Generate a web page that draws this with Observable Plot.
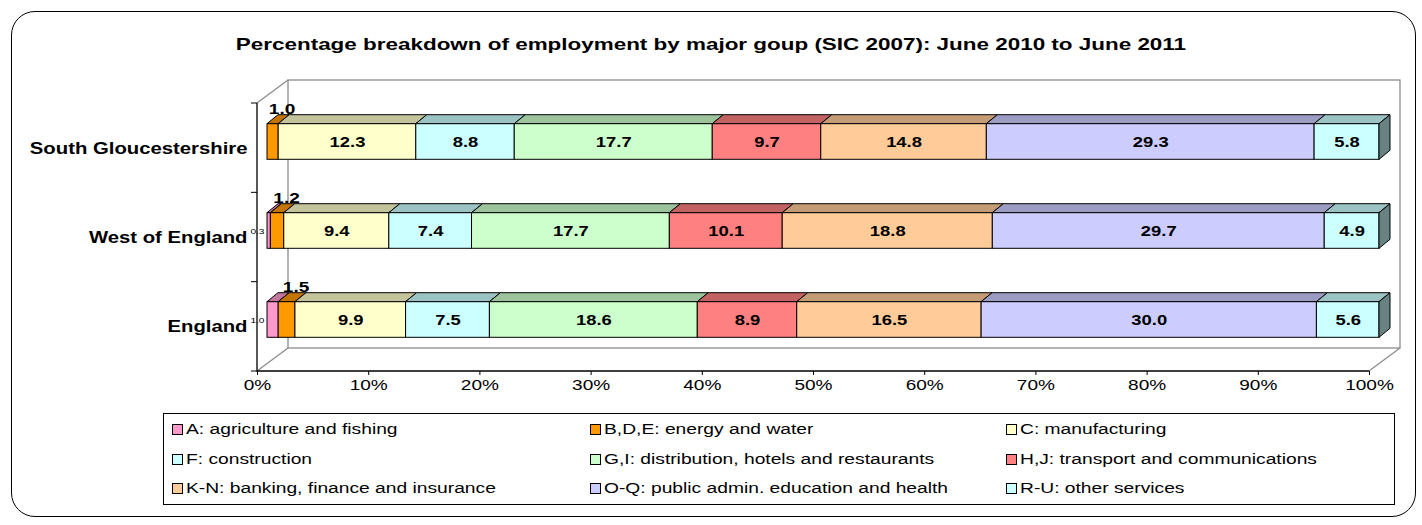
<!DOCTYPE html>
<html>
<head>
<meta charset="utf-8">
<script src="https://cdn.jsdelivr.net/npm/d3@7"></script>
<script src="https://cdn.jsdelivr.net/npm/@observablehq/plot@0.6"></script>
<style>
  html, body { margin: 0; padding: 0; background: #fff; }
  body { font-family: "Liberation Sans", Arial, sans-serif; color: #000; }
  #wrap { position: relative; width: 1422px; height: 525px; overflow: hidden; }
  #frame { position: absolute; left: 11px; top: 11px; width: 1405px; height: 506px; border: 1.5px solid #000; border-radius: 24px; box-sizing: border-box; }
  #title { position: absolute; left: 0; top: 35px; width: 1422px; text-align: center; }
  #title span { display: inline-block; font-weight: bold; font-size: 17px; transform: scaleX(1.32); transform-origin: center; }
  #chart { position: absolute; left: 0; top: 0; }
  #legend { position: absolute; left: 163px; top: 413px; width: 1232px; height: 92px; border: 1px solid #000; box-sizing: border-box; background: #fff; }
  .item { position: absolute; font-size: 15.5px; display: flex; align-items: center; white-space: nowrap; height: 20px; }
  .item .lab { display: inline-block; transform: scaleX(1.24); transform-origin: 0 50%; }
  .sw { width: 9px; height: 9px; border: 1px solid #000; margin-right: 3px; flex: none; }
</style>
</head>
<body>
<div id="wrap">
  <div id="frame"></div>
  <div id="chart"></div>
  <div id="title"><span></span></div>
  <div id="legend"></div>
</div>
<script>
const chartTitle = "Percentage breakdown of employment by major goup (SIC 2007): June 2010 to June 2011";
const regions = ["South Gloucestershire", "West of England", "England"];
const sectors = [
  "A: agriculture and fishing",
  "B,D,E: energy and water",
  "C: manufacturing",
  "F: construction",
  "G,I: distribution, hotels and restaurants",
  "H,J: transport and communications",
  "K-N: banking, finance and insurance",
  "O-Q: public admin. education and health",
  "R-U: other services"
];
const sectorColors = ["#FF99CC", "#FF9900", "#FFFFCC", "#CCFFFF", "#CCFFCC", "#FF8080", "#FFCC99", "#CCCCFF", "#CCFFFF"];
const southGloucestershire = [0.0, 1.0, 12.3, 8.8, 17.7, 9.7, 14.8, 29.3, 5.8];
const westOfEngland = [0.3, 1.2, 9.4, 7.4, 17.7, 10.1, 18.8, 29.7, 4.9];
const england = [1.0, 1.5, 9.9, 7.5, 18.6, 8.9, 16.5, 30.0, 5.6];
const tickValues = [0, 0.1, 0.2, 0.3, 0.4, 0.5, 0.6, 0.7, 0.8, 0.9, 1.0];

const seriesByRegion = [southGloucestershire, westOfEngland, england];

// 100% stacked rows (normalized per region)
const rows = [];
regions.forEach((region, r) => {
  const vals = seriesByRegion[r];
  const total = d3.sum(vals);
  let acc = 0;
  vals.forEach((v, k) => {
    rows.push({region, sector: sectors[k], k, value: v, x1: acc / total, x2: (acc + v) / total, color: sectorColors[k], last: k === vals.length - 1});
    acc += v;
  });
});
const drawn = rows.filter(d => d.value > 0);

// 3D geometry (pixels)
const OFFX = 10, OFFY = -7;     // bar plane offset from front axis plane
const DX = 11, DY = 9;          // bar depth
const WX = 31, WY = 23;         // wall depth
const BAR_FRAC = 0.40;          // bar thickness as fraction of band
const TEXT_STRETCH = 1.27;      // horizontal stretch of chart texts

function render3dBars(index, scales, values, dimensions) {
  const X1 = values.x1, X2 = values.x2, Y = values.y;
  const bw = scales.y.bandwidth ? scales.y.bandwidth() : 89;
  const bh = bw * BAR_FRAC;
  const g = d3.create("svg:g");
  for (const i of index) {
    const d = drawn[i];
    const xa = X1[i] + OFFX, xb = X2[i] + OFFX;
    const cy = Y[i] + bw / 2 + OFFY;
    const top = cy - bh / 2;
    const c = d3.color(d.color);
    g.append("path")
      .attr("d", `M${xa},${top}L${xa + DX},${top - DY}L${xb + DX},${top - DY}L${xb},${top}Z`)
      .attr("fill", c.darker(0.75).formatHex()).attr("stroke", "#000").attr("stroke-width", 1).attr("stroke-linejoin", "round");
    g.append("rect")
      .attr("x", xa).attr("y", top).attr("width", xb - xa).attr("height", bh)
      .attr("fill", d.color).attr("stroke", "#000").attr("stroke-width", 1);
    if (d.last) {
      g.append("path")
        .attr("d", `M${xb},${top}L${xb + DX},${top - DY}L${xb + DX},${top - DY + bh}L${xb},${top + bh}Z`)
        .attr("fill", c.darker(1.9).formatHex()).attr("stroke", "#000").attr("stroke-width", 1).attr("stroke-linejoin", "round");
    }
  }
  return g.node();
}

function renderWalls(index, scales, values, dimensions) {
  const x0 = scales.x(0), x1 = scales.x(1);
  const ya = dimensions.marginTop, yb = dimensions.height - dimensions.marginBottom;
  const step = (yb - ya) / regions.length;
  const g = d3.create("svg:g").attr("fill", "none");
  const gray = "#8c8c8c";
  g.append("rect").attr("x", x0 + WX).attr("y", ya - WY).attr("width", x1 - x0).attr("height", yb - ya)
    .attr("stroke", gray).attr("stroke-width", 1.3);
  g.append("path").attr("d", `M${x0},${ya}L${x0 + WX},${ya - WY}M${x0},${yb}L${x0 + WX},${yb - WY}M${x1},${yb}L${x1 + WX},${yb - WY}`)
    .attr("stroke", gray).attr("stroke-width", 1.3);
  g.append("path").attr("d", `M${x0},${ya}L${x0},${yb}L${x1},${yb}`).attr("stroke", "#000").attr("stroke-width", 1.3);
  for (let k = 0; k <= regions.length; k++) {
    const y = ya + k * step;
    g.append("path").attr("d", `M${x0 - 6},${y}L${x0},${y}`).attr("stroke", "#000").attr("stroke-width", 1);
  }
  return g.node();
}

const plot = Plot.plot({
  width: 1422,
  height: 525,
  marginLeft: 257,
  marginRight: 53,
  marginTop: 103,
  marginBottom: 154,
  style: {background: "transparent", color: "#000", fontFamily: "'Liberation Sans', Arial, sans-serif"},
  x: {domain: [0, 1]},
  y: {domain: regions, padding: 0, axis: null},
  marks: [
    renderWalls,
    Plot.axisX({ticks: tickValues, tickFormat: d3.format(".0%"), tickSize: 4, tickPadding: 4, fontSize: 15, label: null}),
    Plot.text(regions, {x: 0, y: d => d, text: d => d, dx: -10, textAnchor: "end", fontSize: 16, fontWeight: "bold", fill: "#000"}),
    Plot.barX(drawn, {x1: "x1", x2: "x2", y: "region", fill: "color", render: render3dBars}),
    Plot.text(drawn.filter(d => d.k >= 2), {x: d => (d.x1 + d.x2) / 2, y: "region", text: d => d.value.toFixed(1), dx: OFFX, dy: OFFY, fontSize: 14.5, fontWeight: "bold", fill: "#000"}),
    Plot.text(drawn.filter(d => d.k === 1), {x: d => (d.x1 + d.x2) / 2, y: "region", text: d => d.value.toFixed(1), dx: 19, dy: -40, fontSize: 15, fontWeight: "bold", fill: "#000"}),
    Plot.text(drawn.filter(d => d.k === 0), {x: "x1", y: "region", text: d => d.value.toFixed(1), dx: OFFX - 3, dy: OFFY, textAnchor: "end", fontSize: 8, fill: "#000"})
  ]
});
// stretch each text horizontally about its own anchor point
plot.querySelectorAll("text").forEach(t => {
  const lx = +(t.getAttribute("x") || 0);
  const tr = t.getAttribute("transform") || "";
  t.setAttribute("transform", `${tr} translate(${lx},0) scale(${TEXT_STRETCH},1) translate(${-lx},0)`.trim());
});
document.getElementById("chart").appendChild(plot);
document.querySelector("#title span").textContent = chartTitle;

const legend = document.getElementById("legend");
const colX = [8, 426, 842];
const rowY = [5, 35, 64];
sectors.forEach((s, k) => {
  const item = document.createElement("div");
  item.className = "item";
  item.style.left = colX[k % 3] + "px";
  item.style.top = rowY[Math.floor(k / 3)] + "px";
  const sw = document.createElement("span");
  sw.className = "sw";
  sw.style.background = sectorColors[k];
  const label = document.createElement("span");
  label.className = "lab";
  label.textContent = s;
  item.appendChild(sw);
  item.appendChild(label);
  legend.appendChild(item);
});
</script>
</body>
</html>
